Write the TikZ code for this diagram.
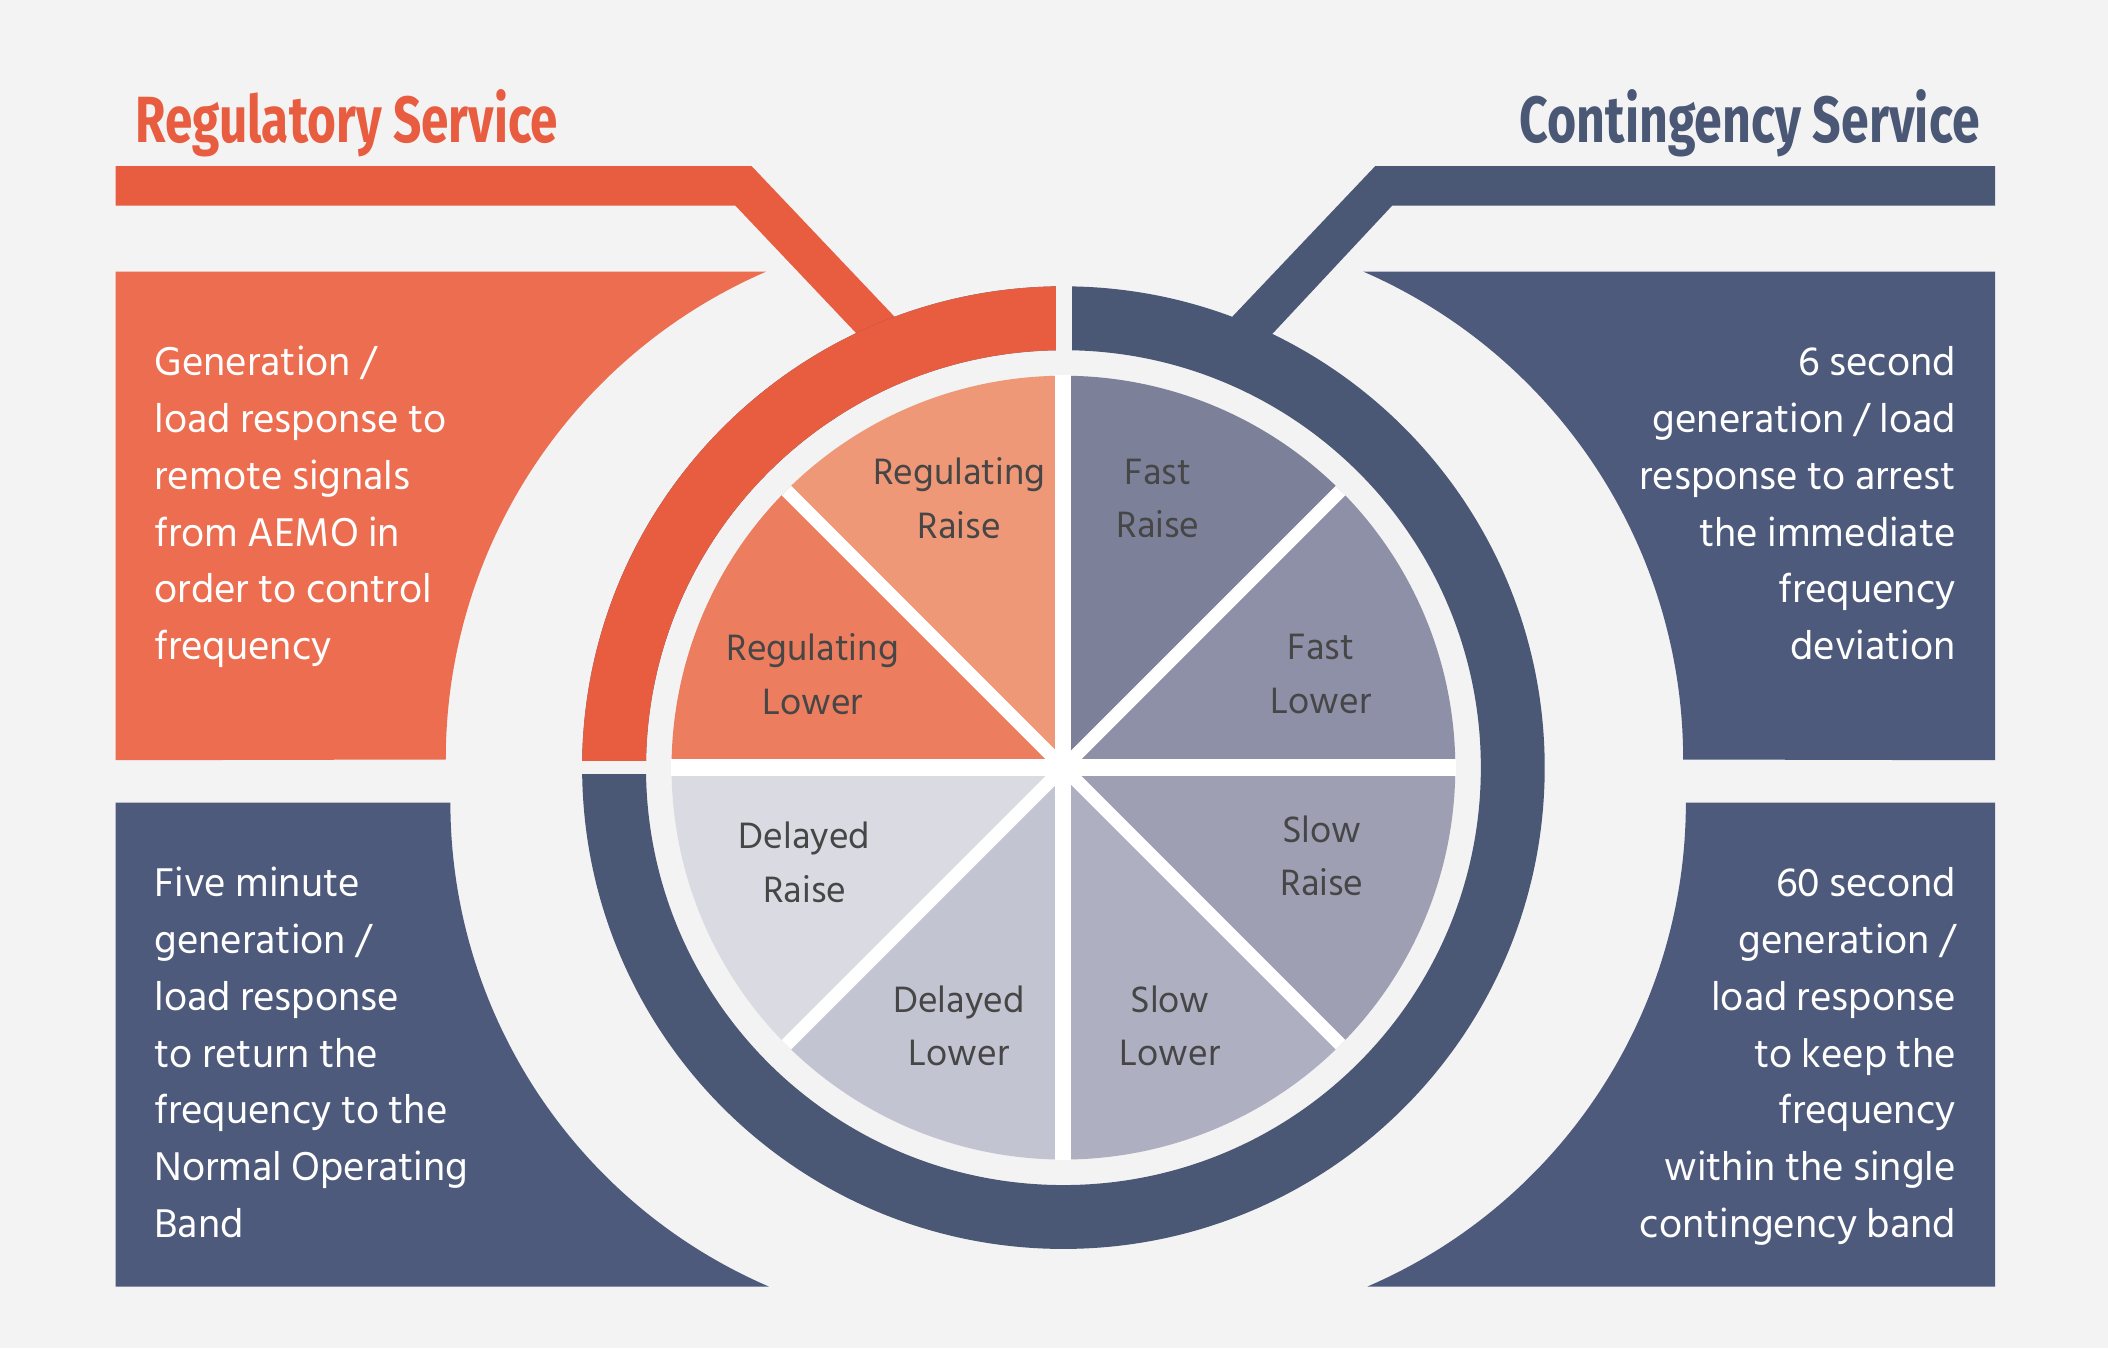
\documentclass[tikz,border=0pt]{standalone}
\usepackage{fontspec}
\setmainfont{Hind Siliguri}
\newfontfamily\titlefont{Fira Sans}
\usepackage{graphicx}
\usetikzlibrary{calc}
\definecolor{bgGray}{HTML}{F3F3F3}
\definecolor{regOrange}{HTML}{E85C40}
\definecolor{regBox}{HTML}{EC6D4F}
\definecolor{conSlate}{HTML}{4A5775}
\definecolor{conBox}{HTML}{4E5A7C}
\definecolor{labelGray}{HTML}{464646}
\definecolor{secRegRaise}{HTML}{EE9878}
\definecolor{secRegLower}{HTML}{EC7D5E}
\definecolor{secFastRaise}{HTML}{7C8199}
\definecolor{secFastLower}{HTML}{8D90A7}
\definecolor{secSlowRaise}{HTML}{9E9FB3}
\definecolor{secSlowLower}{HTML}{AEAFC1}
\definecolor{secDelLower}{HTML}{C3C4D1}
\definecolor{secDelRaise}{HTML}{D9DAE2}
\def\sector[#1](#2:#3){\fill[#1] (791,432) -- ++(#2:291.5) arc (#2:#3:291.5) -- cycle;}

\begin{document}
\begin{tikzpicture}[x=1pt,y=1pt,
    sectorlabel/.style={text=labelGray, align=center, inner sep=0pt, font=\fontsize{28}{39.8}\selectfont},
    boxtext/.style={text=white, inner sep=0pt, font=\fontsize{30.6}{42.26}\selectfont}]
			%%%%% START %%%%%
			
			\fill[bgGray] (0,0) rectangle (1568,1003);
			\useasboundingbox (0,0) rectangle (1568,1003);
			
			% side boxes
			\fill[regBox] (86,801) -- (570,801) arc[start angle=113.4, end angle=180, radius=395.5] -- (86,437.5) -- cycle;
			\fill[conBox] (86,406) -- (335,406) arc[start angle=180, end angle=246.7, radius=392] -- (86,46) -- cycle;
			\fill[conBox] (1484,801) -- (1014,801) arc[start angle=66.5, end angle=0, radius=395.8] -- (1484,437.5) -- cycle;
			\fill[conBox] (1484,406) -- (1254,406) arc[start angle=0, end angle=-66.7, radius=392] -- (1484,46) -- cycle;
			
			% title bars
			\fill[regOrange] (86,879.5) -- (559,879.5) -- (680,752) -- (655,736) -- (547,850) -- (86,850) -- cycle;
			\fill[conSlate] (1484,879.5) -- (1023,879.5) -- (902,752) -- (929,736) -- (1035.5,850) -- (1484,850) -- cycle;
			
			% ring
			\fill[conSlate, even odd rule] (791,432) circle (358) (791,432) circle (310.5);
			\fill[regOrange] (791,790) arc (90:180:358) -- (480.5,432) arc (180:90:310.5) -- cycle;
			\draw[bgGray, line width=11.5] (791.3,730) -- (791.3,795);
			\draw[bgGray, line width=10] (425,432) -- (486,432);
			
			% pie
			\sector[secFastLower](0:45)
			\sector[secFastRaise](45:90)
			\sector[secRegRaise](90:135)
			\sector[secRegLower](135:180)
			\sector[secDelRaise](180:225)
			\sector[secDelLower](225:270)
			\sector[secSlowLower](270:315)
			\sector[secSlowRaise](315:360)
			\draw[white, line width=13] (499,432) -- (1083,432);
			\draw[white, line width=12] (791,140) -- (791,724);
			\draw[white, line width=10] ($(791,432)+(45:291.5)$) -- ($(791,432)+(225:291.5)$);
			\draw[white, line width=10] ($(791,432)+(135:291.5)$) -- ($(791,432)+(315:291.5)$);
			
			% sector labels
			\node[sectorlabel] (lblRegRaise) at (713.5,632.3) {Regulating\\Raise};
			\node[sectorlabel] (lblFastRaise) at (861.4,632.3) {Fast\\Raise};
			\node[sectorlabel] (lblRegLower) at (604.4,501.5) {Regulating\\Lower};
			\node[sectorlabel] (lblFastLower) at (982.6,501.5) {Fast\\Lower};
			\node[sectorlabel] (lblDelRaise) at (598.5,361.5) {Delayed\\Raise};
			\node[sectorlabel] (lblSlowRaise) at (983.3,366.5) {Slow\\Raise};
			\node[sectorlabel] (lblDelLower) at (713.4,240) {Delayed\\Lower};
			\node[sectorlabel] (lblSlowLower) at (870.3,240) {Slow\\Lower};
			
			% titles
			\node[anchor=base west, inner sep=0pt, text=regOrange] (regTitle) at (100.4,897) {\resizebox{314.5pt}{39.4pt}{\titlefont\bfseries Regulatory Service}};
			\node[anchor=base east, inner sep=0pt, text=conSlate] (conTitle) at (1472.7,897) {\resizebox{341.8pt}{39.4pt}{\titlefont\bfseries Contingency Service}};
			
			% box texts
			\foreach \ln [count=\i] in {Generation /, load response to, remote signals, from AEMO in, order to control, frequency}
				\node[boxtext, anchor=base west] (regTxt\i) at (114.7,{723.6-42.26*(\i-1)}) {\ln};
			\foreach \ln [count=\i] in {Five minute, generation /, load response, to return the, frequency to the, Normal Operating, Band}
				\node[boxtext, anchor=base west] (delTxt\i) at (114.7,{336-42.26*(\i-1)}) {\ln};
			\foreach \ln [count=\i] in {6 second, generation / load, response to arrest, the immediate, frequency, deviation}
				\node[boxtext, anchor=base east] (fastTxt\i) at (1455,{723.6-42.26*(\i-1)}) {\ln};
			\foreach \ln [count=\i] in {60 second, generation /, load response, to keep the, frequency, within the single, contingency band}
				\node[boxtext, anchor=base east] (slowTxt\i) at (1455,{336-42.26*(\i-1)}) {\ln};
			
			%%%%% END %%%%%
\end{tikzpicture}
\end{document}
